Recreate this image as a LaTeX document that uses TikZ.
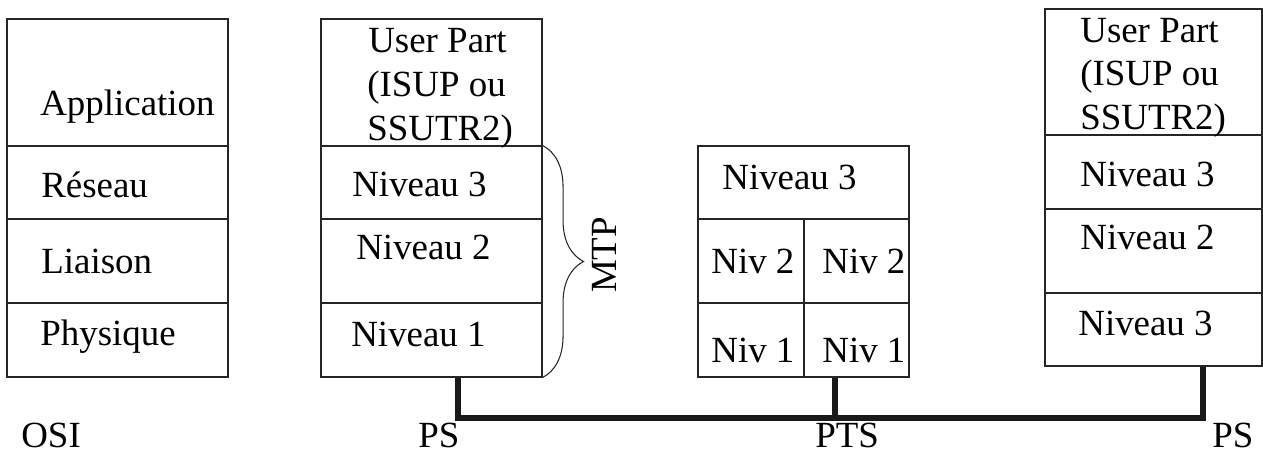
\documentclass[tikz,border=0pt]{standalone}
\usepackage{fontspec}
\setmainfont{Liberation Serif}
\usetikzlibrary{fit,decorations.pathreplacing}

\begin{document}
\begin{tikzpicture}[x=0.02cm, y=-0.02cm,
    cell/.style={draw=black!85, line width=0.6pt, inner sep=0pt},
    txt/.style={anchor=base west, inner sep=0pt,
                font=\fontsize{21}{25}\selectfont},
    bus/.style={line width=3.2pt, black!90}
]
\useasboundingbox (0,0) rectangle (1263,452);

% pile OSI
\node[cell, fit={(7,19) (228,146)}] (oApp) {};
\node[cell, fit={(7,146) (228,219)}] (oRes) {};
\node[cell, fit={(7,219) (228,303)}] (oLia) {};
\node[cell, fit={(7,303) (228,377)}] (oPhy) {};
\node[txt] (tApp) at (40,116) {Application};
\node[txt] (tRes) at (41,198) {Réseau};
\node[txt] (tLia) at (41,274) {Liaison};
\node[txt] (tPhy) at (40,345) {Physique};
\node[txt, text depth=0pt] (tOsi) at (21,447) {OSI};

% PS gauche
\node[cell, fit={(321,19) (542,146)}] (lUp) {};
\node[cell, fit={(321,146) (542,219)}] (lN3) {};
\node[cell, fit={(321,219) (542,303)}] (lN2) {};
\node[cell, fit={(321,303) (542,377)}] (lN1) {};
\node[txt] (lUpA) at (368,53) {User Part};
\node[txt] (lUpB) at (367,97) {(ISUP ou};
\node[txt] (lUpC) at (367,141) {SSUTR2)};
\node[txt] (tlN3) at (352,197) {Niveau 3};
\node[txt] (tlN2) at (356,260) {Niveau 2};
\node[txt] (tlN1) at (351,346) {Niveau 1};
\node[txt, text depth=0pt] (tPsL) at (418,447) {PS};

% MTP
\draw[black!85, line width=0.6pt,
      decorate, decoration={brace, amplitude=0.82cm}]
    (lN3.north east) -- (lN1.south east);
\node[txt, anchor=center, rotate=90] (mtp) at (604,255) {MTP};

% PTS
\node[cell, fit={(698,146) (909,219)}] (mN3) {};
\node[cell, fit={(698,219) (804,303)}] (mN2a) {};
\node[cell, fit={(804,219) (909,303)}] (mN2b) {};
\node[cell, fit={(698,303) (804,377)}] (mN1a) {};
\node[cell, fit={(804,303) (909,377)}] (mN1b) {};
\node[txt] (tmN3) at (722,190) {Niveau 3};
\node[txt] (tmN2a) at (711,274) {Niv 2};
\node[txt] (tmN2b) at (822,274) {Niv 2};
\node[txt] (tmN1a) at (711,362) {Niv 1};
\node[txt] (tmN1b) at (822,362) {Niv 1};
\node[txt, text depth=0pt] (tPts) at (815,447) {PTS};

% PS droit
\node[cell, fit={(1045,9) (1262,135)}] (rUp) {};
\node[cell, fit={(1045,135) (1262,209)}] (rN3) {};
\node[cell, fit={(1045,209) (1262,293)}] (rN2) {};
\node[cell, fit={(1045,293) (1262,366)}] (rN1) {};
\node[txt] (rUpA) at (1080,43) {User Part};
\node[txt] (rUpB) at (1080,86) {(ISUP ou};
\node[txt] (rUpC) at (1080,130) {SSUTR2)};
\node[txt] (trN3) at (1080,187) {Niveau 3};
\node[txt] (trN2) at (1080,250) {Niveau 2};
\node[txt] (trN1) at (1078,335) {Niveau 3};
\node[txt, text depth=0pt] (tPsR) at (1212,447) {PS};

% liaison
\coordinate (busL) at (458,418);
\coordinate (busM) at (835,418);
\coordinate (busR) at (1203,418);
\draw[bus] (busL |- lN1.south) -- (busL) -- (busR) -- (busR |- rN1.south);
\draw[bus] (busM |- mN1b.south) -- (busM);
\end{tikzpicture}
\end{document}
